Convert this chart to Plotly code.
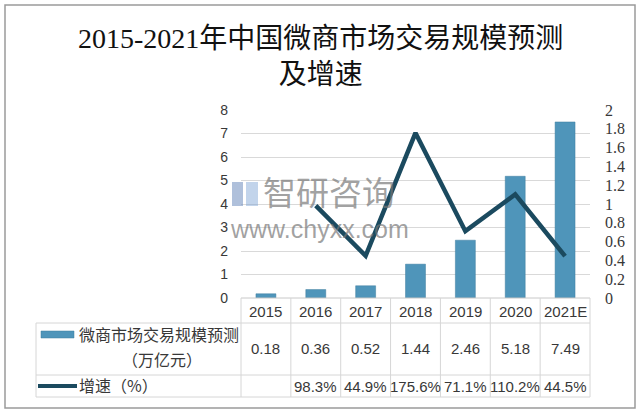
import plotly.graph_objects as go

# ---- data ----
years = ["2015", "2016", "2017", "2018", "2019", "2020", "2021E"]
scale_vals = [0.18, 0.36, 0.52, 1.44, 2.46, 5.18, 7.49]          # 万亿元
growth_pct = [None, 98.3, 44.9, 175.6, 71.1, 110.2, 44.5]         # %
scale_labels = ["0.18", "0.36", "0.52", "1.44", "2.46", "5.18", "7.49"]
growth_labels = ["", "98.3%", "44.9%", "175.6%", "71.1%", "110.2%", "44.5%"]

title_text = "2015-2021年中国微商市场交易规模预测<br>及增速"
series1_name = "微商市场交易规模预测"
series1_unit = "（万亿元）"
series2_name = "增速（%）"

W, H = 640, 418
def px(x):
    return x / W
def py(y):
    return 1 - y / H

L, R, T, B = 241, 590, 110, 298

BAR_COLOR = "#4f95ba"
LINE_COLOR = "#1b4a5f"
GRID = "#d9d9d9"
TXT = "#383838"
SANS = "Liberation Sans Narrow, Liberation Sans, Noto Sans CJK SC"
SERIF = "Liberation Serif, Noto Sans CJK SC"
CJK = "Noto Sans CJK SC"

fig = go.Figure()
fig.add_trace(go.Bar(
    x=years, y=scale_vals, width=0.4,
    marker=dict(color=BAR_COLOR, line=dict(color="#3d7d9f", width=0.5)),
    yaxis="y", showlegend=False, hoverinfo="skip",
))
fig.add_trace(go.Scatter(
    x=years, y=[None if g is None else g / 100 for g in growth_pct],
    mode="lines", line=dict(color=LINE_COLOR, width=4.5),
    yaxis="y2", showlegend=False, connectgaps=False, hoverinfo="skip",
))

shapes = []
anns = []

# outer border
shapes.append(dict(type="rect", xref="paper", yref="paper",
                   x0=px(5), x1=px(635), y0=py(5), y1=py(408),
                   line=dict(color="#9a9a9a", width=1.5), layer="below"))

# table grid
tc = "#d6d6d6"
row_y = [298, 323, 375, 397]
col_x = [L + i * (R - L) / 7 for i in range(8)]
shapes.append(dict(type="line", xref="paper", yref="paper", x0=px(L), x1=px(R),
                   y0=py(row_y[0]), y1=py(row_y[0]), line=dict(color="#c8c8c8", width=1)))
for yy in row_y[1:]:
    shapes.append(dict(type="line", xref="paper", yref="paper", x0=px(36), x1=px(R),
                       y0=py(yy), y1=py(yy), line=dict(color=tc, width=1)))
for xx in col_x:
    shapes.append(dict(type="line", xref="paper", yref="paper", x0=px(xx), x1=px(xx),
                       y0=py(row_y[0]), y1=py(row_y[3]), line=dict(color=tc, width=1)))
shapes.append(dict(type="line", xref="paper", yref="paper", x0=px(36), x1=px(36),
                   y0=py(row_y[1]), y1=py(row_y[3]), line=dict(color=tc, width=1)))

# legend swatches in table
shapes.append(dict(type="rect", xref="paper", yref="paper", x0=px(41), x1=px(74),
                   y0=py(338), y1=py(331), fillcolor=BAR_COLOR,
                   line=dict(color="#3d7d9f", width=0.5)))
shapes.append(dict(type="line", xref="paper", yref="paper", x0=px(38), x1=px(77),
                   y0=py(386), y1=py(386), line=dict(color=LINE_COLOR, width=4)))

# watermark logo
shapes.append(dict(type="rect", xref="paper", yref="paper", x0=px(232), x1=px(243),
                   y0=py(206), y1=py(182), fillcolor="rgba(110,140,190,0.55)", line=dict(width=0)))
shapes.append(dict(type="rect", xref="paper", yref="paper", x0=px(246), x1=px(258),
                   y0=py(206), y1=py(182), fillcolor="rgba(120,160,210,0.45)", line=dict(width=0)))

# table texts (positioned on the category axis by index)
for i, (yv, sv, gv) in enumerate(zip(years, scale_labels, growth_labels)):
    anns.append(dict(x=i, xref="x", y=py(311), yref="paper", text=yv, showarrow=False,
                     xanchor="center", font=dict(family=SANS, size=15, color=TXT), yanchor="middle"))
    anns.append(dict(x=i, xref="x", y=py(348), yref="paper", text=sv, showarrow=False,
                     xanchor="center", font=dict(family=SANS, size=15, color=TXT), yanchor="middle"))
    if gv:
        anns.append(dict(x=i, xref="x", y=py(386), yref="paper", text=gv, showarrow=False,
                         xanchor="center", font=dict(family=SANS, size=15, color=TXT), yanchor="middle"))

anns.append(dict(x=px(159), y=py(334), xref="paper", yref="paper", text=series1_name,
                 showarrow=False, font=dict(family=CJK, size=16, color=TXT),
                 xanchor="center", yanchor="middle"))
anns.append(dict(x=px(162), y=py(359), xref="paper", yref="paper", text=series1_unit,
                 showarrow=False, font=dict(family=CJK, size=16, color=TXT),
                 xanchor="center", yanchor="middle"))
anns.append(dict(x=px(77), y=py(385), xref="paper", yref="paper", text=series2_name,
                 showarrow=False, font=dict(family=CJK, size=16, color=TXT),
                 xanchor="left", yanchor="middle"))

# watermark text
anns.append(dict(x=px(261), y=py(191), xref="paper", yref="paper", text="智研咨询",
                 showarrow=False, xanchor="left", yanchor="middle",
                 font=dict(family=CJK, size=33, color="rgba(120,120,120,0.7)")))
anns.append(dict(x=px(228), y=py(229), xref="paper", yref="paper", text="www.chyxx.com",
                 showarrow=False, xanchor="left", yanchor="middle",
                 font=dict(family="Liberation Sans", size=25, color="rgba(120,120,120,0.7)")))

# title
anns.append(dict(x=0.5, y=py(56), xref="paper", yref="paper", text=title_text,
                 showarrow=False, xanchor="center", yanchor="middle",
                 font=dict(family=SERIF, size=28, color="#111111")))

fig.update_layout(
    width=W, height=H, margin=dict(l=0, r=0, t=0, b=0),
    paper_bgcolor="white", plot_bgcolor="white",
    xaxis=dict(domain=[px(L), px(R)], range=[-0.5, 6.5], showticklabels=False,
               showgrid=False, zeroline=False, showline=False, ticks="", automargin=False),
    yaxis=dict(domain=[py(B), py(T)], range=[0, 8], dtick=1, showgrid=True,
               gridcolor=GRID, gridwidth=1, zeroline=False, showline=False,
               tickfont=dict(family="Liberation Sans", size=14, color=TXT),
               ticklabelstandoff=12, automargin=False),
    yaxis2=dict(overlaying="y", side="right", range=[0, 2], dtick=0.2, showgrid=False,
                zeroline=False, showline=False,
                tickfont=dict(family="Liberation Serif", size=16, color=TXT),
                ticklabelstandoff=14, automargin=False),
    shapes=shapes, annotations=anns,
)

fig.write_html("out.html", config={"displayModeBar": False},
               post_script="document.body.style.margin='0px';")
